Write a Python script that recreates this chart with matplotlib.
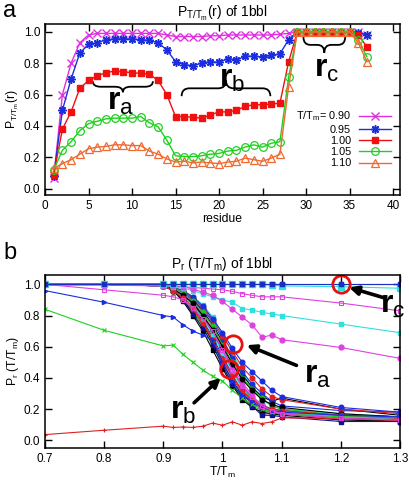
import matplotlib
matplotlib.use('Agg')
import matplotlib.pyplot as plt
from matplotlib.path import Path
from matplotlib.patches import PathPatch

plt.rcParams['font.family'] = ['Liberation Sans', 'DejaVu Sans']
plt.rcParams['mathtext.fontset'] = 'custom'
plt.rcParams['mathtext.rm'] = 'Liberation Sans'
plt.rcParams['mathtext.it'] = 'Liberation Sans'
plt.rcParams['mathtext.bf'] = 'Liberation Sans:bold'

# ---- panel a: P(r) per residue at five temperatures ----
residues = list(range(1, 38))
t_labels = ['T/T$_m$= 0.90', '0.95', '1.00', '1.05', '1.10']

p_090 = [0.07, 0.60, 0.80, 0.93, 0.98, 0.99, 0.99, 0.99, 0.99, 0.99, 0.99, 0.99, 0.99,
         0.98, 0.97, 0.97, 0.97, 0.97, 0.975, 0.975, 0.98, 0.98, 0.98, 0.98, 0.98, 0.98,
         0.985, 0.99, 1.0, 1.0, 1.0, 1.0, 1.0, 1.0, 1.0, 1.0, 0.98]
p_095 = [0.08, 0.50, 0.70, 0.865, 0.92, 0.93, 0.95, 0.955, 0.955, 0.955, 0.95, 0.945, 0.93,
         0.885, 0.81, 0.79, 0.785, 0.80, 0.81, 0.805, 0.83, 0.82, 0.845, 0.845, 0.84, 0.85,
         0.86, 0.95, 1.0, 1.0, 1.0, 1.0, 1.0, 1.0, 1.0, 0.995, 0.98]
p_100 = [0.09, 0.38, 0.49, 0.64, 0.69, 0.72, 0.74, 0.75, 0.745, 0.74, 0.735, 0.73, 0.69,
         0.60, 0.46, 0.46, 0.455, 0.45, 0.47, 0.49, 0.49, 0.50, 0.525, 0.535, 0.535, 0.54,
         0.545, 0.81, 1.0, 1.0, 1.0, 1.0, 1.0, 1.0, 1.0, 0.98, 0.905]
p_105 = [0.12, 0.245, 0.30, 0.37, 0.415, 0.43, 0.445, 0.45, 0.45, 0.45, 0.46, 0.42, 0.395,
         0.31, 0.21, 0.205, 0.205, 0.21, 0.22, 0.225, 0.24, 0.245, 0.265, 0.28, 0.265, 0.29,
         0.30, 0.71, 1.0, 1.0, 1.0, 1.0, 1.0, 1.0, 1.0, 0.95, 0.84]
p_110 = [0.13, 0.16, 0.185, 0.22, 0.255, 0.265, 0.27, 0.28, 0.28, 0.275, 0.275, 0.24, 0.22,
         0.19, 0.17, 0.175, 0.165, 0.17, 0.165, 0.16, 0.17, 0.175, 0.195, 0.185, 0.175, 0.195,
         0.22, 0.65, 1.0, 1.0, 1.0, 1.0, 1.0, 1.0, 1.0, 0.93, 0.81]

# ---- panel b: P_r vs T/Tm for residues ----
temps = [0.7, 0.8, 0.9, 0.9167, 0.9333, 0.95, 0.9667, 0.9833, 1.0, 1.0167, 1.0333,
         1.05, 1.0667, 1.0833, 1.1, 1.2, 1.3]

p_res1 = [0.036, 0.064, 0.09, 0.082, 0.085, 0.082, 0.09, 0.11, 0.096, 0.118, 0.096,
          0.118, 0.107, 0.118, 0.143, 0.14, 0.128]
p_res2 = [0.84, 0.705, 0.605, 0.61, 0.55, 0.50, 0.45, 0.41, 0.38, 0.32, 0.27, 0.23,
          0.20, 0.18, 0.17, 0.15, 0.15]
p_res3 = [0.96, 0.885, 0.80, 0.79, 0.74, 0.70, 0.675, 0.64, 0.50, 0.38, 0.29, 0.25,
          0.21, 0.19, 0.18, 0.16, 0.15]
p_mag_sq_low = [1.0, 0.965, 0.93, 0.92, 0.90, 0.85, 0.78, 0.70, 0.58, 0.45, 0.35, 0.28,
                0.22, 0.19, 0.17, 0.14, 0.13]
p_cyan_mid = [1.0, 1.0, 0.99, 0.985, 0.975, 0.96, 0.94, 0.92, 0.90, 0.885, 0.845, 0.835,
              0.82, 0.81, 0.80, 0.745, 0.69]
p_mag_sq_high = [0.995, 0.995, 0.99, 0.99, 0.985, 0.98, 0.975, 0.97, 0.965, 0.955, 0.94,
                 0.93, 0.92, 0.92, 0.92, 0.88, 0.83]
p_mag_circ = [1.0, 1.0, 1.0, 0.99, 0.985, 0.97, 0.95, 0.93, 0.89, 0.84, 0.79, 0.74,
              0.66, 0.675, 0.645, 0.595, 0.525]
p_cyan_top = [1.0, 1.0, 1.0, 1.0, 1.0, 1.0, 1.0, 1.0, 1.0, 1.0, 1.0, 1.0, 1.0, 0.995,
              0.99, 0.985, 0.975]
p_green_top = [1.0, 1.0, 1.0, 1.0, 1.0, 1.0, 1.0, 1.0, 1.0, 1.0, 1.0, 1.0, 1.0, 1.0,
               1.0, 1.0, 1.0]
p_blue_top = [1.0, 1.0, 1.0, 1.0, 1.0, 1.0, 1.0, 1.0, 1.0, 1.0, 1.0, 1.0, 1.0, 1.0,
              1.0, 1.0, 1.0]

b01 = [1.0, 1.0, 0.99, 0.96, 0.90, 0.82, 0.74, 0.63, 0.50, 0.38, 0.29, 0.24, 0.20, 0.18, 0.17, 0.14, 0.13]
b02 = [1.0, 1.0, 0.99, 0.97, 0.93, 0.86, 0.77, 0.66, 0.54, 0.42, 0.31, 0.25, 0.21, 0.19, 0.18, 0.15, 0.14]
b03 = [1.0, 1.0, 0.99, 0.96, 0.91, 0.83, 0.73, 0.61, 0.48, 0.36, 0.27, 0.22, 0.19, 0.18, 0.17, 0.15, 0.14]
b04 = [1.0, 1.0, 0.99, 0.97, 0.92, 0.85, 0.76, 0.65, 0.52, 0.40, 0.30, 0.24, 0.20, 0.18, 0.17, 0.14, 0.12]
b05 = [1.0, 1.0, 0.99, 0.97, 0.94, 0.88, 0.80, 0.70, 0.58, 0.46, 0.35, 0.28, 0.23, 0.20, 0.19, 0.16, 0.15]
b06 = [1.0, 1.0, 1.0, 0.98, 0.96, 0.92, 0.87, 0.79, 0.68, 0.56, 0.44, 0.34, 0.26, 0.22, 0.20, 0.17, 0.15]
b07 = [1.0, 1.0, 1.0, 0.98, 0.95, 0.90, 0.83, 0.74, 0.63, 0.52, 0.42, 0.34, 0.28, 0.25, 0.27, 0.20, 0.16]
b08 = [1.0, 1.0, 1.0, 0.98, 0.95, 0.90, 0.84, 0.76, 0.65, 0.53, 0.44, 0.36, 0.30, 0.25, 0.22, 0.19, 0.18]
b09 = [1.0, 1.0, 0.99, 0.97, 0.93, 0.87, 0.79, 0.69, 0.57, 0.45, 0.34, 0.27, 0.22, 0.20, 0.19, 0.16, 0.15]
b10 = [1.0, 1.0, 1.0, 0.98, 0.96, 0.91, 0.85, 0.77, 0.67, 0.57, 0.47, 0.40, 0.33, 0.28, 0.26, 0.20, 0.17]
b11 = [1.0, 1.0, 1.0, 0.98, 0.94, 0.89, 0.81, 0.71, 0.59, 0.47, 0.37, 0.29, 0.17, 0.17, 0.18, 0.15, 0.14]
b12 = [1.0, 1.0, 0.99, 0.96, 0.89, 0.80, 0.70, 0.58, 0.46, 0.35, 0.26, 0.21, 0.18, 0.17, 0.16, 0.13, 0.12]
b13 = [1.0, 1.0, 1.0, 0.98, 0.96, 0.92, 0.86, 0.78, 0.69, 0.59, 0.50, 0.44, 0.38, 0.32, 0.28, 0.21, 0.18]
b14 = [1.0, 1.0, 0.99, 0.97, 0.93, 0.86, 0.78, 0.68, 0.56, 0.44, 0.33, 0.26, 0.21, 0.19, 0.18, 0.15, 0.14]
b15 = [1.0, 1.0, 1.0, 0.98, 0.95, 0.89, 0.82, 0.73, 0.61, 0.50, 0.40, 0.33, 0.27, 0.22, 0.20, 0.16, 0.15]
b16 = [1.0, 1.0, 1.0, 0.97, 0.93, 0.88, 0.80, 0.71, 0.60, 0.49, 0.39, 0.32, 0.26, 0.23, 0.21, 0.17, 0.15]
b17 = [1.0, 1.0, 0.99, 0.96, 0.90, 0.81, 0.72, 0.61, 0.48, 0.36, 0.28, 0.22, 0.16, 0.16, 0.15, 0.12, 0.12]
b18 = [1.0, 1.0, 0.99, 0.96, 0.91, 0.84, 0.75, 0.64, 0.52, 0.41, 0.32, 0.26, 0.22, 0.20, 0.19, 0.16, 0.14]

circle_t = [1.2, 1.017, 1.011]
circle_p = [1.0, 0.62, 0.46]


def brace(ax, x0, x1, y, d, w):
    # curly brace; d > 0: ends up / tip down, d < 0: ends down / tip up
    xm = (x0 + x1) / 2
    verts = [(x0, y + d), (x0, y), (x0 + w, y), (xm - w, y), (xm, y), (xm, y - d),
             (xm, y), (xm + w, y), (x1 - w, y), (x1, y), (x1, y + d)]
    codes = [Path.MOVETO, Path.CURVE3, Path.CURVE3, Path.LINETO, Path.CURVE3, Path.CURVE3,
             Path.CURVE3, Path.CURVE3, Path.LINETO, Path.CURVE3, Path.CURVE3]
    ax.add_patch(PathPatch(Path(verts, codes), fc='none', ec='black', lw=1.3))


fig = plt.figure(figsize=(4.1, 4.82), dpi=100)

# ---------------- panel a ----------------
ax1 = fig.add_axes([45 / 410, 1 - 195 / 482, 355 / 410, 171 / 482])
ax1.plot(residues, p_090, '-x', color='#e030e0', lw=1, ms=5.5, mew=1, label=t_labels[0])
ax1.plot(residues, p_095, '-', marker=(8, 2, 0), color='#1a2ee0', lw=1, ms=6, mew=1.1,
         label=t_labels[1])
ax1.plot(residues, p_100, '-s', color='#f01010', lw=1, ms=5, label=t_labels[2])
ax1.plot(residues, p_105, '-o', color='#20d020', lw=1, ms=5.5, mfc='none', mew=0.9,
         label=t_labels[3])
ax1.plot(residues, p_110, '-^', color='#f06a30', lw=1, ms=5.5, mfc='none', mew=0.9,
         label=t_labels[4])

ax1.set_xlim(0, 40.8)
ax1.set_ylim(-0.04, 1.05)
ax1.set_xticks(range(0, 41, 5))
ax1.set_yticks([0.0, 0.2, 0.4, 0.6, 0.8, 1.0])
ax1.set_yticklabels(['0.0', '0.2', '0.4', '0.6', '0.8', '1.0'])
ax1.tick_params(direction='in', top=True, right=True, length=5, width=1, labelsize=8.5, pad=3.5)
for s in ax1.spines.values():
    s.set_linewidth(1.1)
ax1.set_xlabel('residue', fontsize=8.7, labelpad=1)
ax1.set_ylabel('P$_{T/T_m}$(r)', fontsize=8.7, labelpad=2)
ax1.set_title('P$_{T/T_m}$(r) of 1bbl', fontsize=10, pad=5)
ax1.legend(loc='upper right', bbox_to_anchor=(0.975, 0.5), frameon=False, markerfirst=False,
           fontsize=7.8, handlelength=3.0, handletextpad=0.7, labelspacing=0.12,
           borderpad=0, borderaxespad=0)

brace(ax1, 5.5, 12.4, 0.65, 0.035, 0.9)
brace(ax1, 15.7, 25.9, 0.64, -0.05, 0.9)
brace(ax1, 29.7, 34.5, 0.917, 0.05, 0.8)
ax1.text(8.7, 0.55, r'$\mathbf{r}_\mathrm{a}$', fontsize=23, ha='center', va='center')
ax1.text(21.5, 0.70, r'$\mathbf{r}_\mathrm{b}$', fontsize=23, ha='center', va='center')
ax1.text(32.4, 0.76, r'$\mathbf{r}_\mathrm{c}$', fontsize=23, ha='center', va='center')
fig.text(3 / 410, 1 - 11 / 482, 'a', fontsize=17, va='center', ha='left')

# ---------------- panel b ----------------
ax2 = fig.add_axes([45 / 410, 1 - 448 / 482, 355 / 410, 173 / 482])

bundle = [b01, b02, b03, b04, b05, b06, b07, b08, b09, b10, b11, b12, b13, b14, b15, b16, b17, b18]
bundle_colors = ['black', '#1a2ee0', '#20c020', '#e02020', '#e040e0', '#30e0e0', 'black',
                 '#1a2ee0', '#108010', '#e02020', '#e040e0', 'black', '#1a2ee0', '#30e0e0',
                 '#20c020', 'black', '#101090', '#e02020']
bundle_markers = ['o', 's', 'o', 's', 'o', 's', 'o', 'o', 's', 'o', 's', 's', 'o', 's',
                  'o', 'o', 's', 'o']
for vals, c, m in zip(bundle, bundle_colors, bundle_markers):
    ax2.plot(temps, vals, '-', marker=m, color=c, lw=0.8, ms=3.3)

ax2.plot(temps, p_res1, '-+', color='#e02020', lw=0.8, ms=3.5, mew=0.8)
ax2.plot(temps, p_res2, '-x', color='#20d020', lw=0.8, ms=3, mew=0.8)
ax2.plot(temps, p_res3, '-', marker='>', color='#1a2ee0', lw=0.8, ms=3)
ax2.plot(temps, p_mag_sq_low, '-s', color='#e040e0', lw=0.8, ms=3.3, mfc='none', mew=0.8)
ax2.plot(temps, p_cyan_mid, '-s', color='#30e0e0', lw=0.8, ms=3.5)
ax2.plot(temps, p_mag_sq_high, '-s', color='#e040e0', lw=0.8, ms=3.5, mfc='none', mew=0.8)
ax2.plot(temps, p_mag_circ, '-o', color='#e040e0', lw=0.8, ms=3.5)
ax2.plot(temps, p_cyan_top, '-s', color='#30e0e0', lw=0.8, ms=3.8)
ax2.plot(temps, p_green_top, '-s', color='#20c020', lw=0.8, ms=3.3)
ax2.plot(temps, p_blue_top, '-s', color='#1a2ec0', lw=0.8, ms=3.5)

ax2.plot(circle_t, circle_p, 'o', ms=12.5, mfc='none', mec='#e81010', mew=2)

arrow = dict(arrowstyle='-|>', lw=2.6, color='black', mutation_scale=13, shrinkA=0, shrinkB=0)
ax2.annotate('', xy=(1.214, 0.98), xytext=(1.272, 0.915), arrowprops=arrow)
ax2.annotate('', xy=(1.041, 0.61), xytext=(1.125, 0.48), arrowprops=arrow)
ax2.annotate('', xy=(0.997, 0.40), xytext=(0.952, 0.24), arrowprops=arrow)
ax2.text(1.287, 0.87, r'$\mathbf{r}_\mathrm{c}$', fontsize=23, ha='center', va='center',
         clip_on=False)
ax2.text(1.160, 0.42, r'$\mathbf{r}_\mathrm{a}$', fontsize=23, ha='center', va='center')
ax2.text(0.933, 0.19, r'$\mathbf{r}_\mathrm{b}$', fontsize=23, ha='center', va='center')

ax2.set_xlim(0.7, 1.3)
ax2.set_ylim(-0.05, 1.06)
ax2.set_xticks([0.7, 0.8, 0.9, 1.0, 1.1, 1.2, 1.3])
ax2.set_xticklabels(['0.7', '0.8', '0.9', '1', '1.1', '1.2', '1.3'])
ax2.set_yticks([0.0, 0.2, 0.4, 0.6, 0.8, 1.0])
ax2.set_yticklabels(['0.0', '0.2', '0.4', '0.6', '0.8', '1.0'])
ax2.tick_params(direction='in', top=True, right=True, length=5, width=1, labelsize=8.5, pad=3.5)
for s in ax2.spines.values():
    s.set_linewidth(1.1)
ax2.set_xlabel('T/T$_m$', fontsize=8.7, labelpad=0)
ax2.set_ylabel('P$_r$ (T/T$_m$)', fontsize=8.7, labelpad=2)
ax2.set_title('P$_r$ (T/T$_m$) of 1bbl', fontsize=10, pad=5)
fig.text(3 / 410, 1 - 253 / 482, 'b', fontsize=17, va='center', ha='left')

fig.savefig('out.png', dpi=100)
